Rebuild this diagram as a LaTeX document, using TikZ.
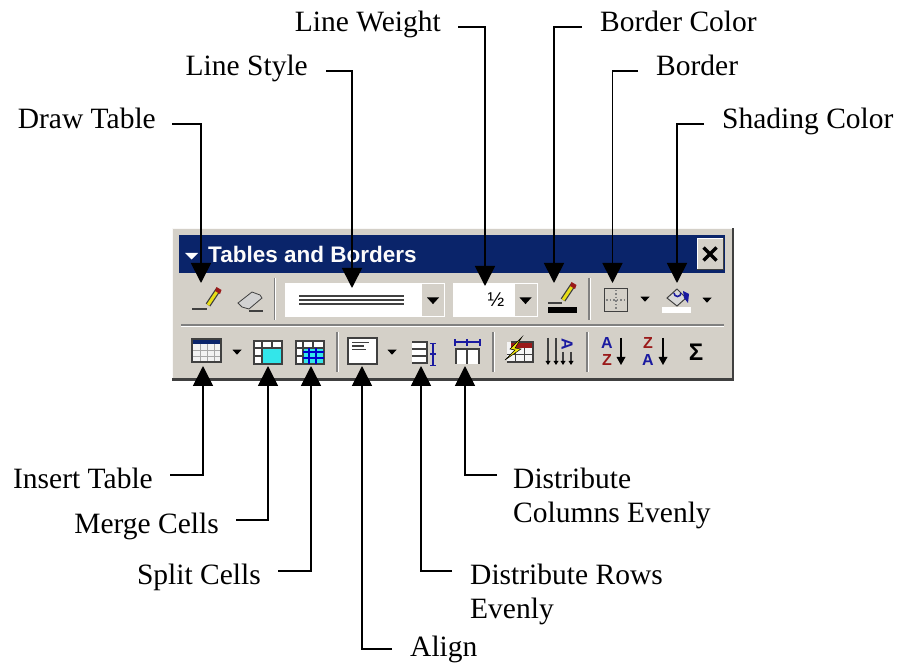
\documentclass[tikz,border=0pt]{standalone}
\usepackage{fontspec}
\setmainfont{Liberation Serif}
\newfontfamily\uifont{Liberation Sans}
\usetikzlibrary{arrows.meta,calc}
\definecolor{tbg}{HTML}{D4D0C8}
\definecolor{tnavy}{HTML}{0A246A}
\definecolor{tdark}{HTML}{404040}
\definecolor{tmid}{HTML}{808080}
\definecolor{tblue}{HTML}{1A1AA0}
\definecolor{tred}{HTML}{9A1A1A}
\definecolor{tcyan}{HTML}{33E6EA}
\tikzset{
  x=1pt,y=-1pt,
  conn/.style={draw=black,line width=1.7pt,-{Triangle[length=20pt,width=20pt]}},
  lbl/.style={font=\fontsize{29.5}{34}\selectfont,inner xsep=0pt,inner ysep=0pt,text height=18pt,text depth=8pt},
  lblb/.style={lbl,text height=28pt,text depth=2pt},
  lbla/.style={lbl,text height=20pt,text depth=6pt},
  lbll/.style={font=\fontsize{29.5}{34}\selectfont,inner sep=0pt,align=left,anchor=north west},
  sepd/.style={draw=tmid,line width=1.3pt},
  sepl/.style={draw=white,line width=1pt},
  ico/.style={draw=tdark,line width=1.5pt},
  icob/.style={draw=tblue,line width=1.3pt},
}
\newcommand{\ddtri}[3]{\fill[black] (#1-#3,#2-#3*0.5) -- (#1+#3,#2-#3*0.5) -- (#1,#2+#3*0.6) -- cycle;}
\newcommand{\vsep}[3]{\draw[sepd] (#1,#2) -- (#1,#3); \draw[sepl] (#1+1.3,#2) -- (#1+1.3,#3);}
\newcommand{\tpencil}[2]{%
  \draw[line width=5.5pt,tdark] (#1,#2) -- (#1+10,#2-15);
  \draw[line width=3pt,yellow!90!black] (#1,#2) -- (#1+10,#2-15);
  \fill[tred] (#1+8.5,#2-18) -- (#1+13.5,#2-15) -- (#1+12,#2-11) -- (#1+7,#2-14) -- cycle;}
\begin{document}
\begin{tikzpicture}
\useasboundingbox (0,0) rectangle (898,663);
\fill[white] (0,0) rectangle (898,663);
% toolbar
\fill[tbg] (172,228) rectangle (733,380);
\draw[white!85!tbg,line width=1.2pt] (172.6,380) -- (172.6,228.6) -- (733,228.6);
\draw[tdark,line width=2.5pt] (172,379.5) -- (733,379.5) -- (733,228);
\fill[tnavy] (179,235) rectangle (725,273);
\fill[white] (185,253) -- (198,253) -- (191.5,259.5) -- cycle;
\node[inner sep=0pt,text=white!92!tbg,font=\uifont\bfseries\fontsize{22.5}{26}\selectfont,anchor=west] (title) at (208,254) {Tables and Borders};
\fill[tbg] (697,238) rectangle (723,270);
\draw[white] (697,270) -- (697,238) -- (723,238);
\draw[tdark,line width=1pt] (697,270) -- (723,270) -- (723,238);
\draw[black,line width=3.4pt] (703.5,247.5) -- (716.5,260.5) (716.5,247.5) -- (703.5,260.5);
% row divider
\draw[tmid,line width=1.3pt] (181,325) -- (724,325);
\draw[white,line width=1pt] (181,326.5) -- (724,326.5);
% row 1
\draw[tdark,line width=1.5pt] (192,309) -- (207,309);
\tpencil{208}{305}
\fill[gray!35,draw=tdark,line width=.8pt] (238,303) -- (252,292) -- (260,295) -- (262,298) -- (249,309) -- (242,307) -- cycle;
\draw[tdark,line width=1.3pt] (249,311) -- (263,311);
\vsep{274.5}{278}{320}
\fill[white] (285,283) rectangle (445,317);
\fill[tbg] (422,284) rectangle (444,316);
\ddtri{433}{300.5}{6}
\draw[tdark,line width=1.5pt] (299,296) -- (404,296) (299,300) -- (404,300) (299,304) -- (404,304);
\fill[white] (453,283) rectangle (538,317);
\fill[tbg] (515,284) rectangle (537,316);
\ddtri{525.5}{300.5}{6}
\node[inner sep=0pt,font=\uifont\fontsize{20}{22}\selectfont] (half) at (496,300) {½};
\draw[tdark,line width=1.5pt] (548,303) -- (562,303);
\tpencil{563}{300}
\fill[black] (548,307) rectangle (577,313);
\vsep{589}{278}{320}
\draw[tdark,line width=1.6pt] (604.5,288.5) rectangle (627.5,311.5);
\draw[gray,line width=1.2pt,dash pattern=on 1.5pt off 2pt] (616,290) -- (616,310) (606,300) -- (626,300);
\ddtri{645}{299}{4.5}
\fill[gray!30,draw=tdark,line width=1pt] (667,298) -- (677,289) -- (686,298) -- (677,306) -- cycle;
\draw[tblue,line width=1.6pt] (674,293) arc[start angle=180,end angle=0,radius=3.5];
\fill[tblue] (683,291) -- (689,294) -- (688,303) -- (684,298) -- cycle;
\fill[white] (662,307) rectangle (691,313);
\ddtri{707}{300}{4.5}
% row 2
\fill[white!90!gray] (192,339) rectangle (221,362);
\fill[tnavy] (192,339) rectangle (221,344);
\draw[gray!70,line width=.9pt] (192,350) -- (221,350) (192,356) -- (221,356) (200,344) -- (200,362) (207,344) -- (207,362) (214,344) -- (214,362);
\draw[tdark,line width=1.5pt] (192,339) rectangle (221,362);
\ddtri{237}{352}{4.5}
% merge
\fill[white] (254,341) rectangle (282,364);
\fill[tcyan] (262,348) rectangle (281,363);
\draw[ico] (254,341) rectangle (282,364);
\draw[ico] (254,348) -- (282,348) (254,356) -- (262,356) (262,341) -- (262,364) (272,341) -- (272,348);
% split
\fill[white] (296,341) rectangle (324,364);
\fill[tcyan] (303,348) rectangle (323,363);
\draw[ico] (296,341) rectangle (324,364);
\draw[ico] (296,348) -- (324,348) (296,356) -- (303,356) (303,341) -- (303,364) (313,341) -- (313,348);
\draw[blue!80!black,line width=1.2pt] (303,352) -- (324,352) (303,358) -- (324,358) (309,348) -- (309,364) (316,348) -- (316,364);
\vsep{337}{332}{372}
% align
\fill[white] (348,338) rectangle (377,364);
\draw[ico] (348,338) rectangle (377,364);
\draw[tdark,line width=1.2pt] (352,342.5) -- (369,342.5) (352,346) -- (364,346) (352,349.5) -- (366,349.5);
\ddtri{392}{352}{4.5}
% distribute rows
\fill[white] (412,342) rectangle (427,363);
\draw[ico] (412,342) -- (427,342) -- (427,363) -- (412,363) (412,349) -- (427,349) (412,356) -- (427,356);
\draw[icob] (433,343) -- (433,366) (430,343.5) -- (436,343.5) (430,365.5) -- (436,365.5);
\draw[icob] (430,354) -- (436,354);
% distribute columns
\draw[icob] (455,342) -- (480,342) (455,339) -- (455,346) (467,339) -- (467,346) (480,339) -- (480,346);
\fill[white] (456,349) rectangle (479,364);
\draw[ico] (456,364) -- (456,349) -- (479,349) -- (479,364) (467,349) -- (467,364);
\vsep{493}{332}{372}
% autoformat
\fill[white!92!gray] (507,342) rectangle (533,362);
\fill[tred] (511,342) rectangle (533,348);
\draw[tdark,line width=.9pt] (507,354) -- (533,354) (515,348) -- (515,362) (524,348) -- (524,362);
\draw[tdark,line width=1.4pt] (507,362) -- (533,362) -- (533,342) -- (511,342);
\fill[yellow!95!black,draw=black,line width=.5pt] (522,337) -- (510,349) -- (515,350) -- (505,360) -- (521,349) -- (515,348) -- cycle;
% sort columns
\draw[tdark,line width=1.4pt] (548,338) -- (548,362) (556,338) -- (556,362) (563,352) -- (563,362) (571,352) -- (571,362);
\foreach \xx in {548,556,563,571}{\fill[black] (\xx-2.5,361) -- (\xx+2.5,361) -- (\xx,365) -- cycle;}
\node[inner sep=0pt,text=tblue,font=\uifont\bfseries\fontsize{16}{16}\selectfont,rotate=-90] (sortA) at (567,344) {A};
\vsep{587}{332}{372}
% sort az
\node[inner sep=0pt,text=tblue,font=\uifont\bfseries\fontsize{16}{16}\selectfont] (az1) at (607,343) {A};
\node[inner sep=0pt,text=tred,font=\uifont\bfseries\fontsize{16}{16}\selectfont] (az2) at (607,360) {Z};
\draw[black,line width=1.4pt] (621,338) -- (621,360);
\fill[black] (616.5,357) -- (625.5,357) -- (621,365) -- cycle;
\node[inner sep=0pt,text=tred,font=\uifont\bfseries\fontsize{16}{16}\selectfont] (za1) at (648,343) {Z};
\node[inner sep=0pt,text=tblue,font=\uifont\bfseries\fontsize{16}{16}\selectfont] (za2) at (648,360) {A};
\draw[black,line width=1.4pt] (663,338) -- (663,360);
\fill[black] (658.5,357) -- (667.5,357) -- (663,365) -- cycle;
\node[inner sep=0pt,text=black,font=\uifont\bfseries\fontsize{24}{24}\selectfont] (sigma) at (696,352) {Σ};
% labels
\node[lbl,anchor=east,inner xsep=16pt] (ldraw) at (172,124) {Draw Table};
\node[lbl,anchor=east,inner xsep=18pt] (lstyle) at (326,71) {Line Style};
\node[lbl,anchor=east,inner xsep=17pt] (lweight) at (458,27) {Line Weight};
\node[lbl,anchor=west,inner xsep=18pt] (lbcolor) at (582,27) {Border Color};
\node[lbl,anchor=west,inner xsep=18pt] (lborder) at (638,71) {Border};
\node[lbl,anchor=west,inner xsep=18pt] (lshade) at (704,124) {Shading Color};
\node[lblb,anchor=east,inner xsep=17pt] (linsert) at (170,475) {Insert Table};
\node[lblb,anchor=east,inner xsep=17pt] (lmerge) at (236,520) {Merge Cells};
\node[lblb,anchor=east,inner xsep=17pt] (lsplit) at (278,571) {Split Cells};
\node[lbla,anchor=west,inner xsep=18pt] (lalign) at (392,649) {Align};
\node[lbll] (lrows) at (470,564) {Distribute Rows\\Evenly};
\node[lbll] (lcols) at (513,468) {Distribute\\Columns Evenly};
% connector ends
\coordinate (srows) at ($(lrows.north west)+(-18,7)$);
\coordinate (scols) at ($(lcols.north west)+(-16,7)$);
\coordinate (tdraw) at (201,283);
\coordinate (tstyle) at (352,288);
\coordinate (tweight) at (485,286);
\coordinate (tbcolor) at (554,283);
\coordinate (tborder) at (612.5,283);
\coordinate (tshade) at (677,283);
\coordinate (tinsert) at (203,366);
\coordinate (tmerge) at (268,366);
\coordinate (tsplit) at (311,366);
\coordinate (talign) at (362,366);
\coordinate (trows) at (421,366);
\coordinate (tcols) at (465,366);
\draw[conn] (ldraw.east) -| (tdraw);
\draw[conn] (lstyle.east) -| (tstyle);
\draw[conn] (lweight.east) -| (tweight);
\draw[conn] (lbcolor.west) -| (tbcolor);
\draw[conn] (lborder.west) -| (tborder);
\draw[conn] (lshade.west) -| (tshade);
\draw[conn] (linsert.east) -| (tinsert);
\draw[conn] (lmerge.east) -| (tmerge);
\draw[conn] (lsplit.east) -| (tsplit);
\draw[conn] (lalign.west) -| (talign);
\draw[conn] (srows) -| (trows);
\draw[conn] (scols) -| (tcols);
\end{tikzpicture}
\end{document}
